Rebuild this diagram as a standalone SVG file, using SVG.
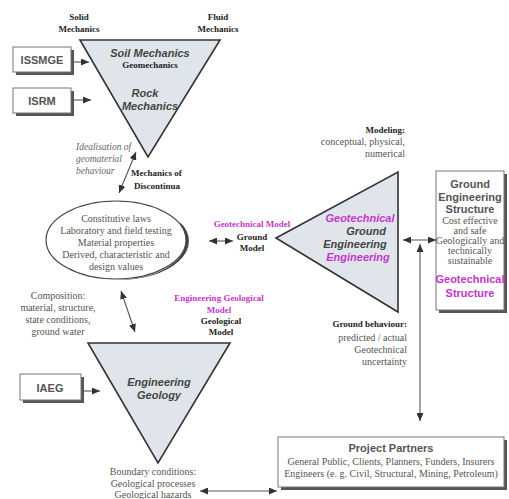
<svg xmlns="http://www.w3.org/2000/svg" width="509" height="499" viewBox="0 0 509 499">
<style>
.bg{fill:#fff}
.tri{fill:#dfe5ea;stroke:#333;stroke-width:1.6}
.box{fill:#fff;stroke:#777;stroke-width:1}
.sh{fill:#555}
.ln{stroke:#555;stroke-width:1.1;fill:none}
.sb{font-family:"Liberation Serif",serif;font-weight:bold;font-size:9px;fill:#222}
.sg{font-family:"Liberation Serif",serif;font-size:10px;fill:#555}
.si{font-family:"Liberation Serif",serif;font-style:italic;font-size:9.5px;fill:#666}
.ab{font-family:"Liberation Sans",sans-serif;font-weight:bold;font-size:11px;fill:#555}
.ai{font-family:"Liberation Sans",sans-serif;font-weight:bold;font-style:italic;font-size:11px;fill:#444}
.mg{fill:#c535c8}
.c{text-anchor:middle}
.r{text-anchor:end}
</style>
<defs>
<marker id="ah" markerUnits="userSpaceOnUse" markerWidth="9" markerHeight="7" refX="8" refY="3.5" orient="auto-start-reverse">
<path d="M0,0 L8,3.5 L0,7 z" fill="#333"/>
</marker>
</defs>
<rect class="bg" width="509" height="499"/>

<g id="labels-top">
<text class="sb c" x="79" y="20">Solid</text>
<text class="sb c" x="79" y="32">Mechanics</text>
<text class="sb c" x="218" y="20">Fluid</text>
<text class="sb c" x="218" y="32">Mechanics</text>
</g>

<g id="mechanics-triangle">
<polygon class="tri" points="80,40 220,40 148,157"/>
<text class="ai c" x="150" y="57">Soil Mechanics</text>
<text class="sb c" x="150" y="68">Geomechanics</text>
<text class="ai c" x="145" y="97">Rock</text>
<text class="ai c" x="150" y="110">Mechanics</text>
</g>

<g id="issmge">
<rect class="sh" x="16" y="50" width="58" height="25"/>
<rect class="box" x="13" y="47" width="58" height="25"/>
<text class="ab c" x="42" y="64">ISSMGE</text>
</g>
<g id="isrm">
<rect class="sh" x="16" y="91" width="58" height="25"/>
<rect class="box" x="13" y="88" width="58" height="25"/>
<text class="ab c" x="42" y="105">ISRM</text>
</g>

<g id="idealisation">
<text class="si" x="76" y="150">Idealisation of</text>
<text class="si" x="76" y="162">geomaterial</text>
<text class="si" x="76" y="174">behaviour</text>
<text class="sb" x="131" y="176">Mechanics of</text>
<text class="sb" x="134" y="189">Discontinua</text>
</g>

<g id="constitutive-ellipse">
<path d="M180,222 A70,39 0 0 1 117,280 A70,39 0 0 0 186,240 Z" fill="#444"/>
<ellipse cx="116" cy="240" rx="70" ry="39" fill="#fff" stroke="#444" stroke-width="1.2"/>
<text class="sg c" font-size="9" x="116" y="222">Constitutive laws</text>
<text class="sg c" font-size="9" x="116" y="234">Laboratory and field testing</text>
<text class="sg c" font-size="9" x="116" y="246">Material  properties</text>
<text class="sg c" font-size="9" x="116" y="258">Derived, characteristic and</text>
<text class="sg c" font-size="9" x="116" y="270">design values</text>
</g>

<g id="ground-model">
<text class="sb c mg" x="252" y="227">Geotechnical Model</text>
<text class="sb c" x="252" y="240">Ground</text>
<text class="sb c" x="252" y="251">Model</text>
</g>

<g id="modeling">
<text class="sb r" x="405" y="133">Modeling:</text>
<text class="sg r" font-size="9.5" x="405" y="145">conceptual, physical,</text>
<text class="sg r" font-size="9.5" x="405" y="157">numerical</text>
</g>

<g id="geotechnical-triangle">
<polygon class="tri" points="276,238 398,172 398,312"/>
<text class="ai c mg" x="360" y="222">Geotechnical</text>
<text class="ai c" x="366" y="235">Ground</text>
<text class="ai c" x="355" y="248">Engineering</text>
<text class="ai c mg" x="358" y="261">Engineering</text>
</g>

<g id="structure-box">
<rect class="sh" x="439" y="174" width="68" height="139"/>
<rect class="box" x="436" y="171" width="68" height="139"/>
<text class="ab c" font-size="9.5" x="470" y="188">Ground</text>
<text class="ab c" font-size="9.5" x="470" y="201">Engineering</text>
<text class="ab c" font-size="9.5" x="470" y="213">Structure</text>
<text class="sg c" font-size="8" x="470" y="224">Cost effective</text>
<text class="sg c" font-size="8" x="470" y="234">and safe</text>
<text class="sg c" font-size="8" x="470" y="244">Geologically and</text>
<text class="sg c" font-size="8" x="470" y="254">technically</text>
<text class="sg c" font-size="8" x="470" y="264">sustainable</text>
<text class="ab c mg" font-size="10" x="470" y="283">Geotechnical</text>
<text class="ab c mg" font-size="10" x="470" y="297">Structure</text>
</g>

<g id="ground-behaviour">
<text class="sb r" x="407" y="327">Ground behaviour:</text>
<text class="sg r" font-size="9.5" x="407" y="341">predicted / actual</text>
<text class="sg r" font-size="9.5" x="407" y="353">Geotechnical</text>
<text class="sg r" font-size="9.5" x="407" y="365">uncertainty</text>
</g>

<g id="composition">
<text class="sg c" x="58" y="299">Composition:</text>
<text class="sg c" x="58" y="311">material, structure,</text>
<text class="sg c" x="58" y="323">state conditions,</text>
<text class="sg c" x="58" y="335">ground water</text>
</g>

<g id="geological-model">
<text class="sb c mg" font-size="8.5" x="219" y="301">Engineering Geological</text>
<text class="sb c mg" font-size="8.5" x="219" y="313">Model</text>
<text class="sb c" font-size="8.5" x="221" y="324">Geological</text>
<text class="sb c" font-size="8.5" x="221" y="335">Model</text>
</g>

<g id="geology-triangle">
<polygon class="tri" points="88,343 230,343 158,463"/>
<text class="ai c" x="159" y="386">Engineering</text>
<text class="ai c" x="159" y="399">Geology</text>
</g>

<g id="iaeg">
<rect class="sh" x="23" y="377" width="61" height="26"/>
<rect class="box" x="20" y="374" width="61" height="26"/>
<text class="ab c" x="50" y="392">IAEG</text>
</g>

<g id="boundary">
<text class="sg c" x="153" y="475">Boundary conditions:</text>
<text class="sg c" x="153" y="487">Geological processes</text>
<text class="sg c" x="153" y="498">Geological hazards</text>
</g>

<g id="project-partners">
<rect class="sh" x="281" y="440" width="226" height="50"/>
<rect class="box" x="278" y="437" width="226" height="50"/>
<text class="ab c" font-size="9.5" x="391" y="452">Project Partners</text>
<text class="sg c" x="391" y="465">General Public, Clients, Planners, Funders, Insurers</text>
<text class="sg c" x="391" y="477">Engineers (e. g. Civil, Structural, Mining, Petroleum)</text>
</g>

<g id="connectors">
<line class="ln" x1="72" y1="62" x2="89" y2="62" marker-end="url(#ah)"/>
<line class="ln" x1="72" y1="100" x2="91" y2="100" marker-end="url(#ah)"/>
<line class="ln" x1="119" y1="193" x2="136" y2="152" marker-start="url(#ah)" marker-end="url(#ah)"/>
<line class="ln" x1="209" y1="241" x2="233" y2="241" marker-start="url(#ah)" marker-end="url(#ah)"/>
<line class="ln" x1="121" y1="291" x2="135" y2="332" marker-start="url(#ah)" marker-end="url(#ah)"/>
<line class="ln" x1="82" y1="391" x2="100" y2="391" marker-end="url(#ah)"/>
<line class="ln" x1="403" y1="240" x2="436" y2="240" marker-start="url(#ah)" marker-end="url(#ah)"/>
<line class="ln" x1="420" y1="244" x2="420" y2="421" marker-start="url(#ah)" marker-end="url(#ah)"/>
<line class="ln" x1="200" y1="491" x2="277" y2="491" marker-start="url(#ah)" marker-end="url(#ah)"/>
</g>
</svg>
